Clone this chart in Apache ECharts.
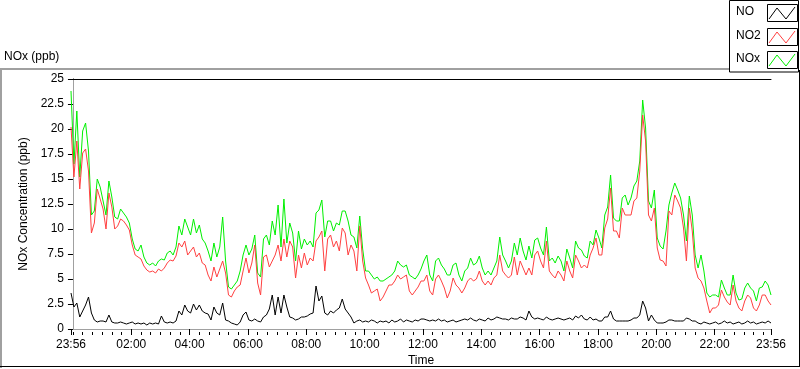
<!DOCTYPE html>
<html><head><meta charset="utf-8">
<script src="https://cdn.jsdelivr.net/npm/echarts@6/dist/echarts.min.js"></script>
<style>html,body{margin:0;padding:0;background:#fff}#c{width:800px;height:369px}</style>
</head><body><div id="c"></div>
<script>
// Time base: minutes after midnight; first sample at 23:56 of the previous day
const startMinute = -4;
const stepMinutes = 6;

const seriesNames = ['NO', 'NO2', 'NOx'];

const no = [
 3.6,2.2,2.6,1.2,1.8,2.4,3.2,1.6,0.9,0.7,0.8,
 0.8,0.7,1.4,0.7,0.6,0.6,0.7,0.6,0.5,0.6,
 0.7,0.5,0.6,0.5,0.6,0.4,0.6,0.5,0.6,0.5,
 1.3,0.7,0.6,0.7,0.6,0.8,1.8,1.4,2.4,1.8,
 1.6,2.5,1.9,2.4,1.8,1.6,1.5,0.9,2.2,1.6,
 1.4,2.6,0.9,0.8,0.6,0.5,0.4,0.7,1.4,1.7,
 0.9,0.8,1.0,0.8,0.7,1.2,1.4,2.0,3.4,1.4,
 3.2,1.6,3.4,2.2,1.2,1.1,0.9,1.0,1.2,1.2,
 1.3,1.5,1.6,4.3,2.8,3.3,1.6,1.4,1.8,1.6,
 1.9,2.1,3.0,2.0,1.6,1.2,0.6,0.8,0.9,0.7,
 0.8,0.7,0.9,0.8,0.6,0.8,0.7,0.8,0.6,0.9,
 0.7,0.8,1.0,0.7,0.9,0.8,0.7,0.9,0.8,1.0,
 1.0,0.9,0.8,0.9,0.8,1.0,0.8,0.9,0.7,0.8,
 0.9,0.7,0.8,0.9,1.0,0.9,1.1,0.9,0.8,1.0,
 0.9,0.8,1.1,0.9,1.0,1.2,1.1,1.0,1.0,0.9,
 1.1,1.0,1.0,1.2,1.1,0.9,1.8,1.2,1.0,1.1,
 1.0,0.9,1.2,1.0,0.9,1.0,1.1,1.0,0.9,1.0,
 1.1,0.9,1.3,1.1,1.4,1.0,0.9,1.2,0.9,1.0,
 0.8,0.8,1.2,1.2,1.8,1.0,0.8,0.8,0.8,0.8,
 0.8,0.9,1.1,1.1,1.4,2.8,2.1,0.8,1.4,0.9,
 0.6,0.6,0.6,0.7,0.9,0.9,0.8,0.8,0.8,0.8,
 1.1,1.0,0.8,0.8,0.6,0.5,0.7,0.6,0.5,0.6,
 0.7,0.5,0.6,0.8,0.6,0.7,0.5,0.6,0.7,0.5,
 0.6,0.8,0.6,0.7,0.5,0.6,0.7,0.6,0.8,0.6
];

const no2 = [
 20.2,15.2,18.8,14.0,17.6,18.0,15.8,9.6,10.6,14.0,13.0,
 12.0,10.0,13.6,12.2,10.0,10.3,11.0,10.8,10.4,9.9,
 8.4,7.4,7.2,7.0,6.3,5.9,5.7,5.8,5.6,6.0,
 5.8,6.1,6.6,6.9,6.8,7.3,8.6,8.2,8.8,7.4,
 7.8,8.2,7.2,7.6,6.6,6.4,5.4,4.8,6.2,5.2,
 6.0,6.8,5.6,3.4,3.2,3.8,4.2,4.4,5.8,7.1,
 5.6,6.6,8.4,4.6,3.4,7.2,7.4,6.2,6.8,7.4,
 8.4,6.8,9.0,7.2,8.8,8.2,5.1,7.4,6.1,7.6,
 6.4,7.1,6.8,8.8,9.2,9.8,5.8,9.0,9.4,8.2,
 8.8,7.8,10.1,9.6,7.4,8.4,7.8,5.8,10.3,6.8,
 5.1,4.4,3.6,3.8,4.0,2.8,3.2,3.8,4.4,4.4,
 4.8,5.4,5.0,5.2,5.4,3.8,3.4,3.8,4.2,4.8,
 4.8,5.4,3.8,3.4,5.0,5.4,4.8,4.1,3.1,3.8,
 5.1,4.4,4.1,3.6,4.1,4.8,5.1,4.8,5.0,5.8,
 4.8,4.4,4.8,4.4,5.1,5.4,7.4,5.8,5.4,5.1,
 5.4,7.2,5.4,6.8,6.1,5.4,6.1,5.4,7.4,7.8,
 6.8,6.1,8.8,5.8,5.4,5.1,5.8,5.4,4.8,6.8,
 5.8,5.1,7.4,6.8,6.1,6.4,6.1,7.4,8.1,9.1,
 7.4,7.4,10.1,11.0,14.1,9.8,9.8,9.1,12.1,11.4,
 11.4,11.4,12.8,13.1,15.8,21.4,18.8,11.4,10.8,12.1,
 8.1,6.9,6.8,6.3,11.8,11.4,13.4,12.8,12.1,10.1,
 6.8,12.1,9.8,6.1,5.1,4.8,4.1,2.8,1.6,2.1,
 2.1,2.4,3.9,3.2,2.7,2.4,4.4,2.8,2.1,1.8,
 2.8,3.4,3.1,2.1,1.8,2.4,3.4,3.4,2.8,2.4
];

const nox = [
 23.8,16.5,21.8,15.2,19.8,20.6,17.8,11.4,11.8,15.0,14.2,
 12.8,11.4,14.8,13.2,11.2,11.0,12.0,11.6,11.2,10.6,
 9.0,8.0,7.8,8.4,7.2,6.6,6.4,6.6,6.3,6.8,
 7.0,6.9,7.6,7.8,7.4,8.2,10.3,9.4,11.0,10.2,
 9.4,11.0,9.6,10.4,9.0,8.6,7.8,6.8,8.6,7.2,
 8.2,11.2,6.8,4.2,4.0,4.4,4.8,5.8,7.4,8.4,
 7.4,8.0,9.4,5.6,5.2,9.0,9.4,8.4,10.8,9.4,
 12.4,8.2,13.0,8.6,10.6,9.6,6.8,9.8,8.0,9.0,
 8.4,8.8,8.2,11.6,11.9,12.9,9.2,10.8,10.8,9.8,
 10.6,10.4,11.8,11.8,10.8,9.4,9.2,8.1,11.3,8.0,
 5.8,5.8,5.4,5.0,5.2,4.8,4.8,5.0,5.2,5.4,
 5.8,6.8,6.4,6.2,6.4,5.4,5.2,5.0,5.4,6.0,
 6.8,7.4,5.4,4.8,6.8,7.1,6.4,6.0,5.4,5.4,
 6.4,6.6,5.4,4.8,5.8,6.1,7.1,6.4,6.6,7.3,
 6.1,5.4,5.8,5.4,6.1,6.8,9.2,7.4,6.8,6.1,
 6.8,8.6,7.4,9.1,7.8,6.9,8.3,7.1,8.9,9.1,
 8.1,7.4,10.2,6.8,7.1,6.6,7.3,6.8,5.8,8.0,
 7.1,6.1,8.8,8.1,7.9,7.3,7.1,8.8,8.4,9.9,
 9.1,8.1,11.4,12.2,15.4,11.1,10.8,10.8,13.1,13.4,
 12.4,13.1,14.3,14.8,16.8,22.9,20.1,12.8,12.1,13.9,
 9.1,8.3,8.0,9.8,12.4,13.6,14.6,13.9,13.1,11.4,
 8.8,13.3,11.4,7.4,6.1,7.4,5.8,3.6,3.2,3.4,
 3.4,3.2,4.9,4.1,3.4,3.4,5.4,3.6,2.9,3.0,
 4.1,4.6,4.1,3.8,2.8,4.1,4.2,4.8,4.4,3.4
];

// x-axis labels (minutes after midnight) and their text
const majorTickMinutes = [-4,120,240,360,480,600,720,840,960,1080,1200,1320,1436];
const majorTickLabels = ['23:56','02:00','04:00','06:00','08:00','10:00','12:00','14:00','16:00','18:00','20:00','22:00','23:56'];
const minorTickStep = 20;

const yMin = 0, yMax = 25, yStep = 2.5;
const xMin = -4, xMax = 1436;

const FONT = '"Liberation Sans", Arial, sans-serif';
const colors = {NO:'#000000', NO2:'#ff4040', NOx:'#00f000'};

const minorTickMinutes = [];
for (let m = 0; m <= 1420; m += minorTickStep) minorTickMinutes.push(m);

const xs = no.map((_, i) => startMinute + i * stepMinutes);
const toPairs = arr => arr.map((v, i) => [xs[i], v]);

const chart = echarts.init(document.getElementById('c'), null, {renderer:'canvas', width:800, height:369});

const labelMap = {};
majorTickMinutes.forEach((m, i) => labelMap[m] = majorTickLabels[i]);

function legendItem(name, y) {
  const bx = 767, by = y - 9, bw = 30, bh = 17;
  return [
    {type:'text', left:736, top:y - 7, style:{text:name, font:'12px ' + FONT, fill:'#000'}, z:101},
    {type:'rect', shape:{x:bx + 0.5, y:by + 0.5, width:bw, height:bh}, style:{fill:'#fff', stroke:'#000', lineWidth:1}, z:101},
    {type:'polyline', shape:{points:[[bx + 2, by + bh - 2],[bx + 10, by + 4],[bx + 19, by + bh - 2],[bx + 28, by + 3]]},
     style:{stroke:colors[name], lineWidth:1, fill:null}, z:102}
  ];
}

const baseX = {type:'value', min:xMin, max:xMax, splitLine:{show:false}};

const option = {
  animation:false,
  backgroundColor:'#fff',
  grid:{left:71, top:79, width:700, height:250, show:false, containLabel:false, outerBoundsMode:'none'},
  xAxis:[
    Object.assign({}, baseX, {position:'bottom',
      axisLine:{show:true, lineStyle:{color:'#a0a0a0', width:1}},
      axisTick:{show:false}, axisLabel:{show:false},
      name:'Time', nameLocation:'middle', nameGap:26,
      nameTextStyle:{color:'#000', fontSize:12, fontFamily:FONT}}),
    Object.assign({}, baseX, {position:'bottom', offset:3,
      axisLine:{show:false},
      axisTick:{show:true, length:6, customValues:majorTickMinutes, lineStyle:{color:'#000'}},
      axisLabel:{show:true, customValues:majorTickMinutes, margin:7, color:'#000', fontSize:12, fontFamily:FONT,
        formatter: v => labelMap[v] !== undefined ? labelMap[v] : ''}}),
    Object.assign({}, baseX, {position:'bottom', offset:3,
      axisLine:{show:false},
      axisTick:{show:true, length:3, customValues:minorTickMinutes, lineStyle:{color:'#000'}},
      axisLabel:{show:false}}),
    Object.assign({}, baseX, {position:'top',
      axisLine:{show:true, lineStyle:{color:'#000'}}, axisTick:{show:false}, axisLabel:{show:false}})
  ],
  yAxis:[
    {type:'value', min:yMin, max:yMax, interval:yStep, position:'left',
      axisLine:{show:true, lineStyle:{color:'#000'}},
      axisTick:{show:true, length:5, lineStyle:{color:'#000'}},
      axisLabel:{margin:7, color:'#000', fontSize:12, fontFamily:FONT},
      splitLine:{show:false},
      name:'NOx Concentration (ppb)', nameLocation:'middle', nameGap:40, nameRotate:90,
      nameTextStyle:{color:'#000', fontSize:12, fontFamily:FONT}},
    {type:'value', min:yMin, max:yMax, position:'right',
      axisLine:{show:true, lineStyle:{color:'#a0a0a0'}}, axisTick:{show:false}, axisLabel:{show:false}, splitLine:{show:false}}
  ],
  series:[
    {name:'NOx', type:'line', data:toPairs(nox), symbol:'none', lineStyle:{color:colors.NOx, width:1}, itemStyle:{color:colors.NOx}, z:2},
    {name:'NO2', type:'line', data:toPairs(no2), symbol:'none', lineStyle:{color:colors.NO2, width:1}, itemStyle:{color:colors.NO2}, z:3},
    {name:'NO', type:'line', data:toPairs(no), symbol:'none', lineStyle:{color:colors.NO, width:1}, itemStyle:{color:colors.NO}, z:4}
  ],
  graphic:[
    {type:'rect', shape:{x:0, y:68, width:731, height:2}, style:{fill:'#a0a0a0'}, z:100},
    {type:'rect', shape:{x:0, y:68, width:2, height:300}, style:{fill:'#a0a0a0'}, z:100},
    {type:'rect', shape:{x:0, y:366, width:800, height:1}, style:{fill:'#000'}, z:100},
    {type:'rect', shape:{x:799, y:70, width:1, height:297}, style:{fill:'#000'}, z:100},
    {type:'rect', shape:{x:729.5, y:0.5, width:69, height:71.5}, style:{fill:'#fff', stroke:'#000', lineWidth:1}, z:100},
    {type:'text', left:4, top:51, style:{text:'NOx (ppb)', font:'12px ' + FONT, fill:'#000'}, z:100}
  ].concat(legendItem('NO', 13), legendItem('NO2', 37), legendItem('NOx', 60))
};

chart.setOption(option);
</script>
</body></html>
